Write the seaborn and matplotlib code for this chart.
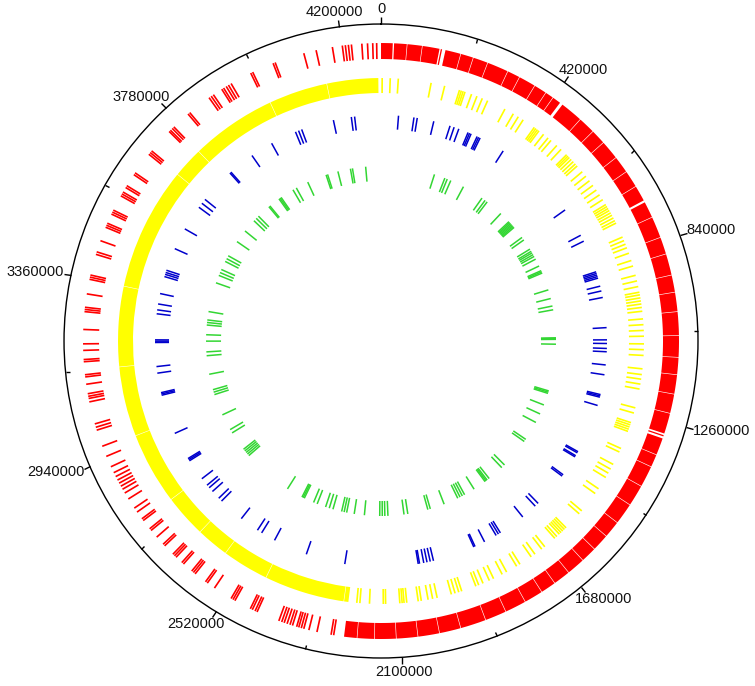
import numpy as np
import matplotlib.pyplot as plt
import seaborn as sns

# genome length in kb
GENOME_KB = 4290

tick_values = [0, 420000, 840000, 1260000, 1680000, 2100000, 2520000,
               2940000, 3360000, 3780000, 4200000]
minor_tick_values = [210000, 630000, 1050000, 1470000, 1890000, 2310000,
                     2730000, 3150000, 3570000, 3990000]

# outer red track: dense runs (kb) + thin white gaps inside them, then sparse genes
red_runs = [(0, 27), (30, 135), (138, 141), (149, 440), (447, 737),
            (742, 1288), (1292, 1295), (1300, 2230)]
red_gaps = [60, 95, 185, 215, 250, 300, 330, 370, 400, 420, 500, 540, 575,
            620, 660, 700, 780, 830, 870, 920, 960, 1005, 1060, 1110, 1150,
            1195, 1240, 1340, 1370, 1420, 1470, 1520, 1560, 1600, 1637, 1680,
            1720, 1756, 1800, 1850, 1900, 1960, 2010, 2060, 2110, 2160, 2200]
red_genes = [2254, 2260, 2293, 2312, 2324, 2330, 2336, 2341, 2351, 2357, 2364,
             2371, 2377, 2384, 2438, 2443, 2450, 2455, 2495, 2500, 2505, 2550,
             2570, 2575, 2605, 2610, 2615, 2640, 2645, 2663, 2668, 2673, 2700,
             2705, 2727, 2747, 2752, 2776, 2781, 2800, 2811, 2836, 2852, 2862,
             2870, 2878, 2886, 2895, 2905, 2920, 2946, 2971, 3010, 3017, 3025,
             3077, 3085, 3090, 3096, 3118, 3135, 3140, 3170, 3175, 3196, 3211,
             3244, 3285, 3290, 3295, 3326, 3360, 3365, 3370, 3419, 3425, 3452,
             3485, 3490, 3495, 3518, 3523, 3528, 3565, 3570, 3575, 3587, 3592,
             3622, 3627, 3680, 3685, 3690, 3750, 3754, 3760, 3765, 3809, 3814,
             3870, 3876, 3882, 3905, 3910, 3917, 3923, 3930, 3981, 3986, 4037,
             4042, 4111, 4140, 4178, 4201, 4208, 4215, 4222, 4246, 4259, 4271,
             4280]

# yellow track
yellow_runs = [(2230, 4283)]
yellow_gaps = [2242, 2454, 2577, 2663, 2776, 2966, 3150, 3361, 3686, 3767,
               3993, 4148]
yellow_genes = [3, 24, 45, 131, 167, 207, 212, 217, 222, 240, 255, 270, 285,
                335, 360, 375, 390, 425, 430, 435, 440, 455, 470, 480, 500, 515,
                535, 540, 545, 552, 560, 568, 575, 595, 610, 625, 640, 655, 670,
                685, 700, 706, 712, 718, 725, 732, 740, 748, 755, 795, 805, 815,
                825, 840, 860, 875, 900, 915, 930, 945, 952, 960, 968, 976, 985,
                995, 1015, 1030, 1045, 1060, 1080, 1095, 1110, 1145, 1160, 1172,
                1185, 1198, 1248, 1262, 1288, 1294, 1300, 1306, 1312, 1360, 1370,
                1406, 1420, 1432, 1445, 1480, 1495, 1552, 1562, 1612, 1618, 1624,
                1630, 1636, 1645, 1652, 1686, 1696, 1718, 1730, 1765, 1775, 1805,
                1818, 1843, 1855, 1873, 1885, 1893, 1932, 1940, 1950, 1960, 1998,
                2010, 2022, 2040, 2048, 2078, 2085, 2090, 2096, 2133, 2139, 2175,
                2200, 2208]

blue_genes = [53, 100, 110, 161, 212, 225, 240, 270, 275, 280, 300, 305, 310,
              390, 650, 740, 760, 860, 865, 870, 875, 880, 905, 920, 940, 1032,
              1069, 1080, 1095, 1105, 1145, 1175, 1236, 1240, 1244, 1270, 1422,
              1426, 1436, 1440, 1505, 1510, 1620, 1632, 1682, 1765, 1772, 1780,
              1820, 1852, 1856, 1985, 1995, 2005, 2015, 2028, 2032, 2255, 2375,
              2480, 2525, 2540, 2600, 2680, 2692, 2720, 2735, 2745, 2770, 2836,
              2840, 2844, 2930, 3052, 3056, 3060, 3120, 3140, 3213, 3217, 3221,
              3300, 3312, 3330, 3362, 3415, 3422, 3428, 3435, 3505, 3572, 3650,
              3665, 3680, 3790, 3794, 3875, 3945, 4025, 4035, 4045, 4145, 4200,
              4210]

green_genes = [212, 255, 265, 280, 335, 420, 435, 445, 515, 560, 565, 570, 575,
               580, 585, 590, 640, 652, 695, 705, 712, 720, 728, 740, 770, 790,
               795, 800, 870, 905, 935, 950, 1060, 1063, 1066, 1085, 1270, 1275,
               1280, 1328, 1366, 1403, 1480, 1490, 1610, 1625, 1690, 1700, 1705,
               1710, 1762, 1805, 1815, 1825, 1835, 1893, 1950, 1960, 2040, 2055,
               2118, 2130, 2140, 2150, 2210, 2250, 2280, 2290, 2300, 2335, 2350,
               2365, 2400, 2415, 2455, 2460, 2465, 2530, 2730, 2738, 2746, 2754,
               2762, 2840, 2855, 2920, 3005, 3015, 3025, 3087, 3160, 3175, 3217,
               3242, 3280, 3290, 3300, 3333, 3449, 3480, 3492, 3505, 3540, 3552,
               3565, 3630, 3682, 3735, 3748, 3760, 3815, 3820, 3865, 3870, 3875,
               3930, 3945, 3995, 4072, 4078, 4120, 4170, 4178, 4230]

R_OUT = 317
TRACKS = {
    "red": (282, 298, "#FF0000"),
    "yellow": (248, 263, "#FFFF00"),
    "blue": (212, 226, "#0000CC"),
    "green": (160, 175, "#33D633"),
}


def to_theta(kb):
    return np.asarray(kb, dtype=float) / GENOME_KB * 2 * np.pi


def split_run(start, end, gaps, gap_w=1.4):
    pieces = []
    cur = start
    for g in sorted(gaps):
        if start < g < end:
            pieces.append((cur, g - gap_w / 2))
            cur = g + gap_w / 2
    pieces.append((cur, end))
    return pieces


def draw_runs(ax, runs, gaps, track):
    r0, r1, col = TRACKS[track]
    for s, e in runs:
        for a, b in split_run(s, e, gaps):
            ax.bar(to_theta((a + b) / 2), r1 - r0, width=to_theta(b - a),
                   bottom=r0, color=col, linewidth=0, align="center")


def draw_genes(ax, genes, track, lw=1.1):
    r0, r1, col = TRACKS[track]
    ax.vlines(to_theta(genes), r0, r1, colors=col, linewidth=lw)


sns.set_style("white")
plt.rcParams['font.family'] = ['Liberation Sans', 'DejaVu Sans']

fig = plt.figure(figsize=(7.55, 6.86), dpi=100)
ax = fig.add_axes([0.0848, 0.0408, 0.8397, 0.9242], projection="polar")
ax.set_theta_zero_location("N")
ax.set_theta_direction(-1)
ax.set_ylim(0, R_OUT)
ax.set_yticks([])
ax.grid(False)
ax.spines["polar"].set_color("black")
ax.spines["polar"].set_linewidth(1.0)

draw_runs(ax, red_runs, red_gaps, "red")
draw_genes(ax, red_genes, "red", lw=1.2)
draw_runs(ax, yellow_runs, yellow_gaps, "yellow")
draw_genes(ax, yellow_genes, "yellow", lw=1.2)
draw_genes(ax, blue_genes, "blue", lw=1.1)
draw_genes(ax, green_genes, "green", lw=1.1)

# ticks on the outer circle (tick2 sits on the outer edge of a polar axes)
ax.set_xticks(to_theta(np.array(tick_values) / 1000))
ax.set_xticks(to_theta(np.array(minor_tick_values) / 1000), minor=True)
ax.tick_params(axis="x", which="major", direction="out", length=5, width=1,
               color="black", bottom=False, top=True,
               labelbottom=False, labeltop=False)
ax.tick_params(axis="x", which="minor", direction="in", length=3, width=1,
               color="black", bottom=False, top=True)
ax.set_xticklabels([])

# tick labels, placed outside the circle and aligned by angle
PAD = 8
renderer = fig.canvas.get_renderer()
for v in tick_values:
    th = float(to_theta(v / 1000))
    s, c = np.sin(th), np.cos(th)
    ann = ax.annotate(str(v), xy=(th, R_OUT), xytext=(0, 0),
                      textcoords="offset pixels", ha="center", va="center",
                      fontsize=10.5, color="#111111", annotation_clip=False)
    bb = ann.get_window_extent(renderer)
    ann.xyann = ((PAD + bb.width / 2) * s, (PAD + bb.height / 2) * c)

fig.savefig("out.png", dpi=100)
